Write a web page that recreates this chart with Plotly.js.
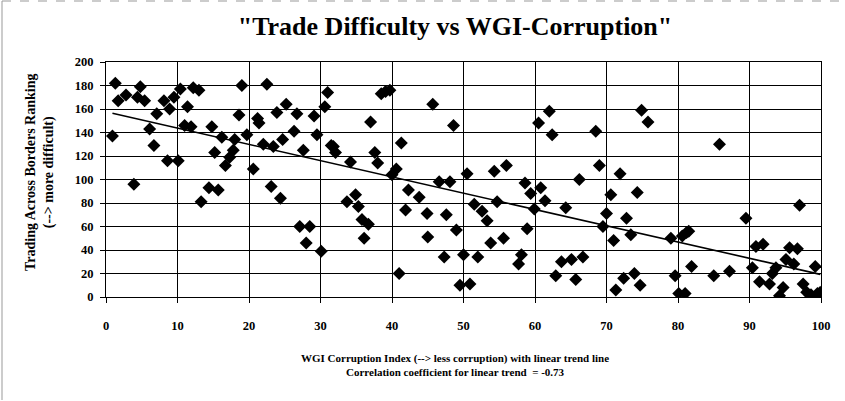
<!DOCTYPE html>
<html>
<head>
<meta charset="utf-8">
<script src="https://cdn.plot.ly/plotly-3.0.1.min.js"></script>
<style>html,body{margin:0;padding:0;background:#fff;}#chart{width:845px;height:401px;}</style>
</head>
<body>
<div id="chart"></div>
<script>
// WGI corruption index (x) and Trading Across Borders ranking (y)
const wgiIndex = [
  1.3,1.7,2.8,4.8,4.4,5.4,0.9,3.9,6.1,6.7,7.1,8.1,8.9,9.5,8.6,10.1,10.4,11.4,11.0,11.9,
  12.2,13.0,14.8,16.2,15.2,13.3,14.4,15.7,16.7,17.3,17.8,18.0,18.6,19.0,19.7,20.6,21.2,21.4,22.5,23.1,
  23.9,24.4,24.7,22.0,23.4,25.2,26.7,29.1,31.0,30.6,29.5,26.3,27.6,27.1,28.5,28.0,30.1,31.8,32.1,31.5,
  34.2,33.7,34.9,35.3,35.8,36.7,36.1,37.0,37.6,38.0,38.5,39.1,39.7,40.0,40.6,41.3,41.0,42.3,43.8,41.9,
  44.9,45.0,45.7,46.6,48.1,47.6,48.6,49.0,47.3,49.5,50.9,50.5,50.0,51.5,52.0,52.6,53.3,53.8,54.3,54.7,
  55.6,56.0,57.7,58.1,58.6,58.9,59.4,59.9,60.8,60.5,62.0,61.4,62.4,62.9,63.7,64.3,65.1,65.7,66.2,66.7,
  68.5,69.0,70.0,69.5,70.6,71.0,71.3,71.9,72.4,72.8,73.4,73.9,74.3,74.7,74.9,75.8,79.0,79.6,80.1,81.0,
  80.6,81.2,81.5,81.9,85.0,85.8,87.2,89.5,90.4,90.9,91.4,91.9,92.8,93.2,93.7,94.2,94.7,95.1,95.6,96.2,
  96.7,97.0,97.5,98.0,98.6,99.2,99.5,99.9
];
const tradeRank = [
  182,167,172,179,170,167,137,96,143,129,156,167,160,170,116,116,177,162,146,145,
  178,176,145,136,123,81,93,91,112,119,125,134,155,180,138,109,152,148,181,94,
  157,84,134,130,128,164,156,154,174,162,138,141,125,60,60,46,39,128,123,129,
  115,81,87,77,66,62,50,149,123,114,173,175,176,104,109,131,20,91,85,74,
  71,51,164,98,98,70,146,57,34,10,11,105,36,79,34,73,65,46,107,81,
  50,112,28,36,97,58,88,75,93,148,158,82,138,18,30,76,32,15,100,34,
  141,112,71,60,87,48,6,105,16,67,53,20,89,10,159,149,50,18,3,3,
  52,55,56,26,18,130,22,67,25,43,13,45,11,20,25,1,8,32,42,28,
  41,78,11,4,2,26,3,4
];
const xTickVals = [0,10,20,30,40,50,60,70,80,90,100];
const yTickVals = [0,20,40,60,80,100,120,140,160,180,200];
const chartTitle = '"Trade Difficulty vs WGI-Corruption"';
const yTitleLines = ['Trading Across Borders Ranking', '(--> more difficult)'];
const xTitleLines = ['WGI Corruption Index (--> less corruption) with linear trend line',
                     'Correlation coefficient for linear trend  = -0.73'];

// least-squares linear trend computed from the data
const n = wgiIndex.length;
const mx = wgiIndex.reduce((a,b)=>a+b,0)/n;
const my = tradeRank.reduce((a,b)=>a+b,0)/n;
let sxy=0, sxx=0;
for (let i=0;i<n;i++){ sxy += (wgiIndex[i]-mx)*(tradeRank[i]-my); sxx += (wgiIndex[i]-mx)**2; }
const slope = sxy/sxx, intercept = my - slope*mx;
const xMin = Math.min(...wgiIndex), xMax = Math.max(...wgiIndex);
const trendX = [xMin, xMax];
const trendY = trendX.map(v => intercept + slope*v);

const serif = 'Liberation Serif, serif';
const traces = [
  {x: wgiIndex, y: tradeRank, mode: 'markers', type: 'scatter',
   marker: {symbol: 'diamond', size: 10, color: '#000'}, hoverinfo: 'x+y'},
  {x: trendX, y: trendY, mode: 'lines', type: 'scatter',
   line: {color: '#000', width: 1.6}, hoverinfo: 'skip'}
];
function axisCommon() {
  return {
    showgrid: true, gridcolor: '#000', gridwidth: 1,
    showline: true, linecolor: '#000', linewidth: 1, mirror: true,
    ticks: 'outside', ticklen: 5, tickcolor: '#000',
    zeroline: false,
    tickfont: {family: serif, size: 12.5, color: '#000', weight: 'bold'}
  };
}
const layout = {
  width: 845, height: 401,
  margin: {l: 106, r: 24, t: 62, b: 104},
  paper_bgcolor: '#fff', plot_bgcolor: '#fff',
  showlegend: false,
  title: {text: chartTitle, x: 455/845, xref: 'container', xanchor: 'center',
          y: 1 - 26/401, yref: 'container', yanchor: 'middle',
          font: {family: serif, size: 26, color: '#000', weight: 'bold'}},
  xaxis: Object.assign(axisCommon(), {range: [0, 100], tickvals: xTickVals, ticklabelstandoff: 12}),
  yaxis: Object.assign(axisCommon(), {range: [0, 200], tickvals: yTickVals, ticklabelstandoff: 4}),
  annotations: [
    {text: yTitleLines.join('<br>'), xref: 'paper', yref: 'paper',
     x: (40-106)/715, y: (297-173)/235, xanchor: 'center', yanchor: 'middle',
     textangle: -90, showarrow: false,
     font: {family: serif, size: 14, color: '#000', weight: 'bold'}},
    {text: xTitleLines.join('<br>'), xref: 'paper', yref: 'paper',
     x: (455-106)/715, y: -(365-297)/235, xanchor: 'center', yanchor: 'middle',
     showarrow: false,
     font: {family: serif, size: 11, color: '#000', weight: 'bold'}}
  ],
  shapes: [
    {type: 'line', xref: 'paper', yref: 'paper', x0: (2-106)/715, x1: (2-106)/715,
     y0: 1 + (62-1)/235, y1: -(400-297)/235, line: {color: '#999', width: 1}},
    {type: 'line', xref: 'paper', yref: 'paper', x0: (2-106)/715, x1: 1 + 24/715,
     y0: 1 + (62-1)/235, y1: 1 + (62-1)/235, line: {color: '#999', width: 1, dash: 'dash'}}
  ]
};
Plotly.newPlot('chart', traces, layout, {displayModeBar: false, staticPlot: true});
</script>
</body>
</html>
